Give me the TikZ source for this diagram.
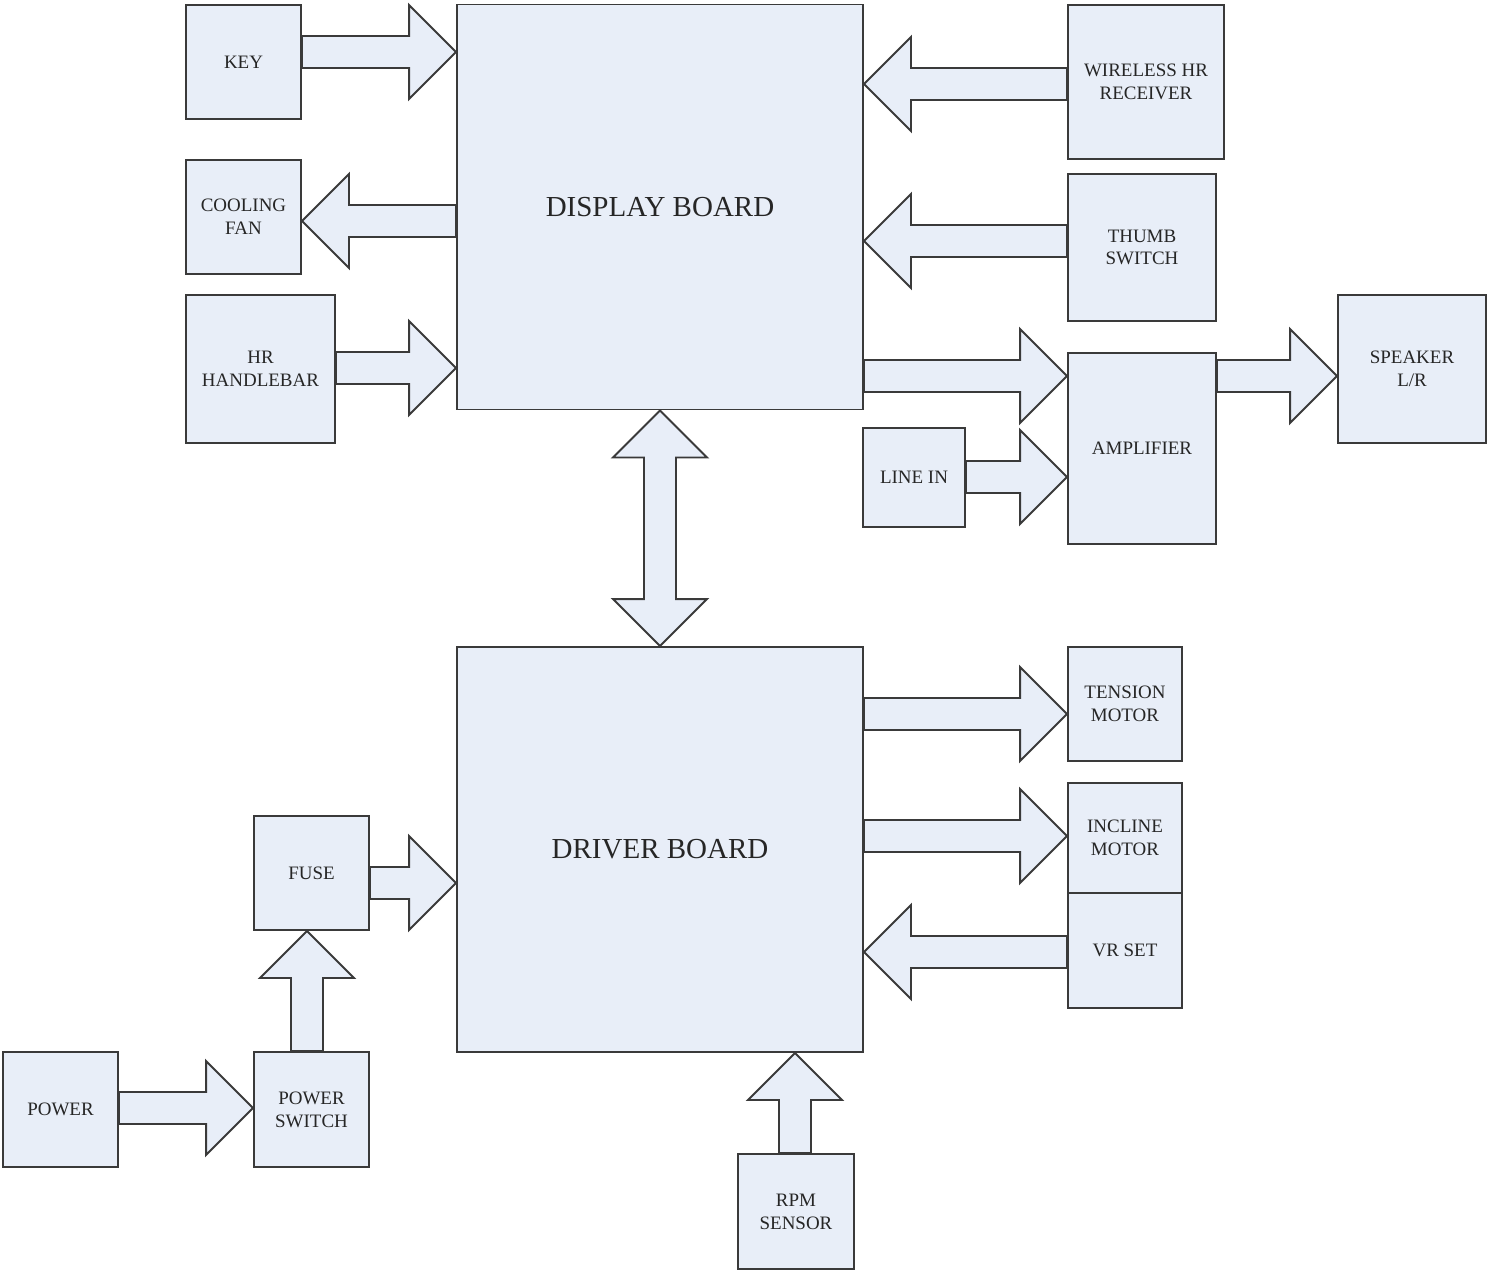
\documentclass[tikz,border=0pt]{standalone}
\usepackage{fontspec}
\setmainfont{Liberation Serif}
\usetikzlibrary{calc}

\newcommand{\shafthw}{16}
\newcommand{\headhw}{47}
\newcommand{\headlen}{47}
\newcommand{\blockarrow}[4]{%
	\draw[arrowshape] ($(#1)+({-\shafthw*(#4)},{\shafthw*(#3)})$)
		-- ($(#2)+({-\headlen*(#3)-\shafthw*(#4)},{-\headlen*(#4)+\shafthw*(#3)})$)
		-- ($(#2)+({-\headlen*(#3)-\headhw*(#4)},{-\headlen*(#4)+\headhw*(#3)})$)
		-- (#2)
		-- ($(#2)+({-\headlen*(#3)+\headhw*(#4)},{-\headlen*(#4)-\headhw*(#3)})$)
		-- ($(#2)+({-\headlen*(#3)+\shafthw*(#4)},{-\headlen*(#4)-\shafthw*(#3)})$)
		-- ($(#1)+({\shafthw*(#4)},{-\shafthw*(#3)})$) -- cycle;}

\begin{document}
\begin{tikzpicture}[x=0.02cm, y=-0.02cm,
	box/.style 2 args={draw=cLine, fill=cFill, line width=1.1pt, inner sep=0pt, align=center,
		text=cText, font=\fontsize{10.8}{13}\selectfont,
		minimum width=#1*0.02cm, minimum height=#2*0.02cm},
	board/.style={box={406}{405}, font=\fontsize{16.5}{19}\selectfont},
	arrowshape/.style={draw=cLine, fill=cFill, line width=1.1pt}]
	\definecolor{cFill}{HTML}{E8EEF8}
	\definecolor{cLine}{HTML}{3A3A3A}
	\definecolor{cText}{HTML}{262626}

	\useasboundingbox (0,0) rectangle (1487,1271);

	\node[board] (display) at (660,207) {DISPLAY BOARD};
	\node[board] (driver) at (660,849.5) {DRIVER BOARD};

	\node[box={115}{114}] (key) at (243.5,62) {KEY};
	\node[box={115}{114}] (fan) at (243.5,217) {COOLING\\FAN};
	\node[box={149}{148}] (hrhandle) at (260.5,369) {HR\\HANDLEBAR};
	\node[box={156}{154}] (wireless) at (1146,82) {WIRELESS HR\\RECEIVER};
	\node[box={148}{147}] (thumb) at (1142,247.5) {THUMB\\SWITCH};
	\node[box={148}{191}] (amp) at (1142,448.5) {AMPLIFIER};
	\node[box={148}{148}] (speaker) at (1412,369) {SPEAKER\\L/R};
	\node[box={102}{99}] (linein) at (914,477.5) {LINE IN};
	\node[box={114}{114}] (tension) at (1125,704) {TENSION\\MOTOR};
	\node[box={114}{110}] (incline) at (1125,838) {INCLINE\\MOTOR};
	\node[box={114}{115}] (vrset) at (1125,950.5) {VR SET};
	\node[box={115}{114}] (fuse) at (311.5,873) {FUSE};
	\node[box={115}{115}] (power) at (60.5,1109.5) {POWER};
	\node[box={115}{115}] (pswitch) at (311.5,1109.5) {POWER\\SWITCH};
	\node[box={116}{115}] (rpm) at (796,1211.5) {RPM\\SENSOR};

	\blockarrow{key.east |- 0,52}{display.west |- 0,52}{1}{0}
	\blockarrow{display.west |- 0,221}{fan.east |- 0,221}{-1}{0}
	\blockarrow{hrhandle.east |- 0,368}{display.west |- 0,368}{1}{0}
	\blockarrow{wireless.west |- 0,84}{display.east |- 0,84}{-1}{0}
	\blockarrow{thumb.west |- 0,241}{display.east |- 0,241}{-1}{0}
	\blockarrow{display.east |- 0,376}{amp.west |- 0,376}{1}{0}
	\blockarrow{linein.east |- 0,477}{amp.west |- 0,477}{1}{0}
	\blockarrow{amp.east |- 0,376}{speaker.west |- 0,376}{1}{0}
	\blockarrow{driver.east |- 0,714}{tension.west |- 0,714}{1}{0}
	\blockarrow{driver.east |- 0,836}{incline.west |- 0,836}{1}{0}
	\blockarrow{vrset.west |- 0,952}{driver.east |- 0,952}{-1}{0}
	\blockarrow{fuse.east |- 0,883}{driver.west |- 0,883}{1}{0}
	\blockarrow{power.east |- 0,1108}{pswitch.west |- 0,1108}{1}{0}
	\blockarrow{pswitch.north -| 307,0}{fuse.south -| 307,0}{0}{-1}
	\blockarrow{rpm.north -| 795,0}{driver.south -| 795,0}{0}{-1}

	\draw[arrowshape] (display.south) -- ++(47,47) -- ++(-31,0) -- ($(driver.north)+(16,-47)$) -- ++(31,0)
		-- (driver.north) -- ++(-47,-47) -- ++(31,0) -- ($(display.south)+(-16,47)$) -- ++(-31,0) -- cycle;
\end{tikzpicture}
\end{document}
